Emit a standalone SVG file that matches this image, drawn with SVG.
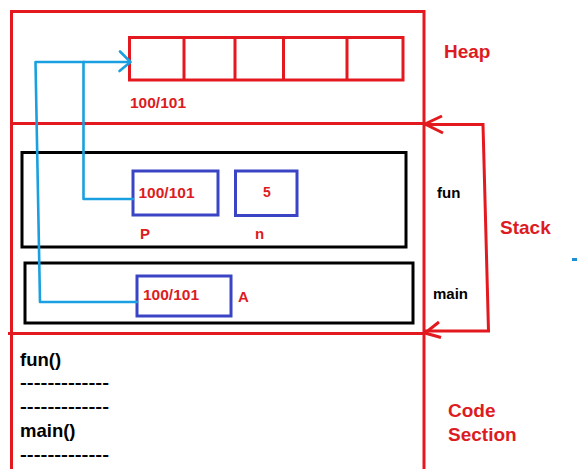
<svg xmlns="http://www.w3.org/2000/svg" width="587" height="469" viewBox="0 0 587 469">
<defs>
<style>
.red{fill:none;stroke:#e3191f;stroke-width:3;}
.blk{fill:none;stroke:#000;stroke-width:3;}
.box{fill:none;stroke:#3b44c4;stroke-width:3;}
.con{fill:none;stroke:#1aa0e0;stroke-width:2.6;stroke-linejoin:round;stroke-linecap:round;}
.rt{font-family:"Liberation Sans",Arial,sans-serif;font-weight:bold;fill:#dc1c22;}
.bt{font-family:"Liberation Sans",Arial,sans-serif;font-weight:bold;fill:#000;}
.v{font-size:15.5px;}
.lbl{font-size:19px;}
</style>
</defs>
<rect width="587" height="469" fill="#fff"/>
<g id="memory">
<path class="red" d="M11.5,470 V11.5 H424 V470"/>
<path class="red" d="M11.5,123.5 H424"/>
<path class="red" d="M8,333.5 H424"/>
</g>
<g id="heap">
<rect class="red" x="129.5" y="37.5" width="273.5" height="42.5"/>
<path class="red" d="M184,37.5 V80 M235,37.5 V80 M283.5,37.5 V80 M347,37.5 V80"/>
<text class="rt v" x="130" y="108">100/101</text>
<text class="rt lbl" x="444" y="58">Heap</text>
</g>
<g id="fun-frame">
<rect class="blk" x="22" y="152.5" width="384" height="94.5"/>
<text class="bt" x="437" y="198" font-size="15px">fun</text>
</g>
<g id="var-p">
<rect class="box" x="133" y="171" width="85" height="44"/>
<text class="rt v" x="138.5" y="198">100/101</text>
<text class="rt" x="140" y="239" font-size="15px">P</text>
</g>
<g id="var-n">
<rect class="box" x="235.5" y="171" width="61.5" height="44.5"/>
<text class="rt" x="267" y="197" font-size="14px" text-anchor="middle">5</text>
<text class="rt" x="255" y="239" font-size="15px">n</text>
</g>
<g id="main-frame">
<rect class="blk" x="25" y="263" width="388" height="60"/>
<text class="bt" x="433" y="299" font-size="15px">main</text>
</g>
<g id="var-a">
<rect class="box" x="137" y="276" width="94" height="40"/>
<text class="rt v" x="143" y="300">100/101</text>
<text class="rt" x="238" y="302" font-size="15px">A</text>
</g>
<g id="stack-label">
<text class="rt lbl" x="500" y="234">Stack</text>
</g>
<g id="code-section">
<text class="bt" x="20" y="366" font-size="18.5px">fun()</text>
<text class="bt" x="20" y="388" font-size="17px" textLength="89" lengthAdjust="spacingAndGlyphs">-------------</text>
<text class="bt" x="20" y="412" font-size="17px" textLength="89" lengthAdjust="spacingAndGlyphs">-------------</text>
<text class="bt" x="20" y="437" font-size="18.5px">main()</text>
<text class="bt" x="20" y="460" font-size="17px" textLength="89" lengthAdjust="spacingAndGlyphs">-------------</text>
<text class="rt lbl" x="448" y="417">Code</text>
<text class="rt lbl" x="448" y="441">Section</text>
</g>
<g id="connectors">
<path class="con" d="M133,199 H83.5 V62 H130"/>
<path class="con" d="M137,302 H40 L35.5,62 H84"/>
<path class="con" d="M120,51.5 L130.5,62 L119.5,71"/>
<path class="red" d="M425,124.5 H483 L488.5,331 H425"/>
<path class="red" d="M442,116 L425,124 L443,133"/>
<path class="red" d="M439,322 L425,333 L441,337.5"/>
</g>
<rect x="572" y="258" width="5" height="3" fill="#1e8fd0"/>
</svg>
